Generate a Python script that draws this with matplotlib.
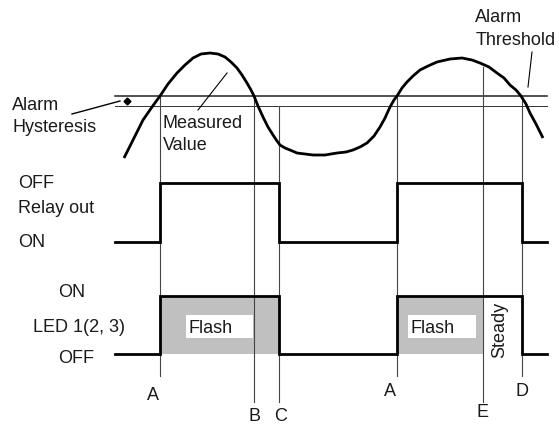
import matplotlib
matplotlib.use("Agg")
import matplotlib.pyplot as plt
from matplotlib.patches import Rectangle

plt.rcParams['font.family'] = ['Liberation Sans', 'DejaVu Sans']

# ---- data (diagram coordinates: time -> right, level -> down) ----
curve_t = [124, 133, 143, 152, 160, 168, 177, 185, 193, 201, 210, 218, 225, 231, 237, 242, 247, 251,
           254, 258, 263, 268, 273, 277, 280, 285, 290, 297, 305, 313, 325, 337, 346, 353, 360, 367,
           374, 380, 385, 390, 394, 397, 402, 407, 413, 420, 428, 437, 450, 462, 472, 480, 489, 497,
           504, 510, 516, 521, 526, 530, 536, 543]
curve_v = [158, 140, 120, 107, 96, 84, 73, 65, 58, 54, 53, 54, 57, 62, 68, 75, 83, 90,
           96, 106, 117, 127, 135, 141, 145, 148, 150, 153, 154, 155, 155, 153, 152, 150, 147, 143,
           136, 127, 118, 107, 100, 96, 88, 82, 76, 70, 66, 62, 59, 58, 60, 63, 67, 73,
           78, 85, 90, 96, 104, 113, 124, 138]

threshold = 96
hysteresis = 106
line_start, line_end = 115, 547

event_names = ['A', 'B', 'C', 'A', 'E', 'D']
event_t = [160, 254, 279, 397, 483, 522]
event_top = [96, 96, 106, 96, 67, 96]
event_bottom = [376, 402, 402, 376, 402, 376]
event_label_y = [400, 421, 421, 396, 417, 396]

relay_t = [line_start, 160, 160, 279, 279, 397, 397, 522, 522, line_end]
relay_v = [242, 242, 183, 183, 242, 242, 183, 183, 242, 242]
led_t = [line_start, 160, 160, 279, 279, 397, 397, 522, 522, line_end]
led_v = [354, 354, 296, 296, 354, 354, 296, 296, 354, 354]
led_on, led_off = 296, 354
flash_spans = [(160, 279), (397, 483)]
flash_box_x = [(186, 253), (408, 476)]

fig = plt.figure(figsize=(5.59, 4.24), dpi=100)
ax = fig.add_axes([0, 0, 1, 1])
ax.set_xlim(0, 559)
ax.set_ylim(424, 0)
ax.axis('off')

fs = 13
tc = '#1a1a1a'

# flash gray fills
for (a, b) in flash_spans:
    ax.add_patch(Rectangle((a, led_on), b - a, led_off - led_on, facecolor='#c0c0c0',
                           edgecolor='none', zorder=1))
for (a, b) in flash_box_x:
    ax.add_patch(Rectangle((a, 315), b - a, 23, facecolor='white', edgecolor='none', zorder=2))
    ax.text(a + 3, 333, 'Flash', fontsize=fs, color=tc, va='baseline', ha='left', zorder=3)

# threshold / hysteresis lines
ax.plot([line_start, line_end], [threshold, threshold], color='#222222', lw=1.1, zorder=2)
ax.plot([line_start, line_end], [hysteresis, hysteresis], color='#333333', lw=0.7, zorder=2)

# event lines
for name, t, top, bot, ly in zip(event_names, event_t, event_top, event_bottom, event_label_y):
    ax.plot([t, t], [top, bot], color='#444444', lw=0.8, zorder=2)
    dx = -7 if (name == 'A') else (2 if name == 'C' else 0)
    ax.text(t + dx, ly, name, fontsize=fs, color=tc, ha='center', va='baseline')

# measured value curve
ax.plot(curve_t, curve_v, color='black', lw=2.0, solid_joinstyle='round',
        solid_capstyle='butt', zorder=4)

# relay and LED waveforms
ax.plot(relay_t, relay_v, color='black', lw=2.0, zorder=4, solid_joinstyle='miter')
ax.plot(led_t, led_v, color='black', lw=2.0, zorder=4, solid_joinstyle='miter')

# steady
ax.text(500, 330, 'Steady', fontsize=fs, color=tc, rotation=90, ha='center', va='center')

# labels
ax.text(12, 110, 'Alarm', fontsize=fs, color=tc, va='baseline')
ax.text(12, 132, 'Hysteresis', fontsize=fs, color=tc, va='baseline')
ax.plot([72, 120], [114, 101], color='black', lw=1.0)
ax.plot([127], [101], marker='D', color='black', markersize=3.5)

ax.text(163, 128, 'Measured', fontsize=fs, color=tc, va='baseline')
ax.text(163, 150, 'Value', fontsize=fs, color=tc, va='baseline')
ax.plot([198, 227], [110, 73], color='black', lw=0.8)

ax.text(475, 22, 'Alarm', fontsize=fs, color=tc, va='baseline')
ax.text(476, 45, 'Threshold', fontsize=fs, color=tc, va='baseline')
ax.plot([532, 528], [52, 87], color='black', lw=0.8)

ax.text(18, 188, 'OFF', fontsize=fs, color=tc, va='baseline')
ax.text(18, 213, 'Relay out', fontsize=fs, color=tc, va='baseline')
ax.text(18, 247, 'ON', fontsize=fs, color=tc, va='baseline')

ax.text(58, 297, 'ON', fontsize=fs, color=tc, va='baseline')
ax.text(33, 332, 'LED 1(2, 3)', fontsize=fs, color=tc, va='baseline')
ax.text(58, 363, 'OFF', fontsize=fs, color=tc, va='baseline')

fig.savefig('out.png', dpi=100)
